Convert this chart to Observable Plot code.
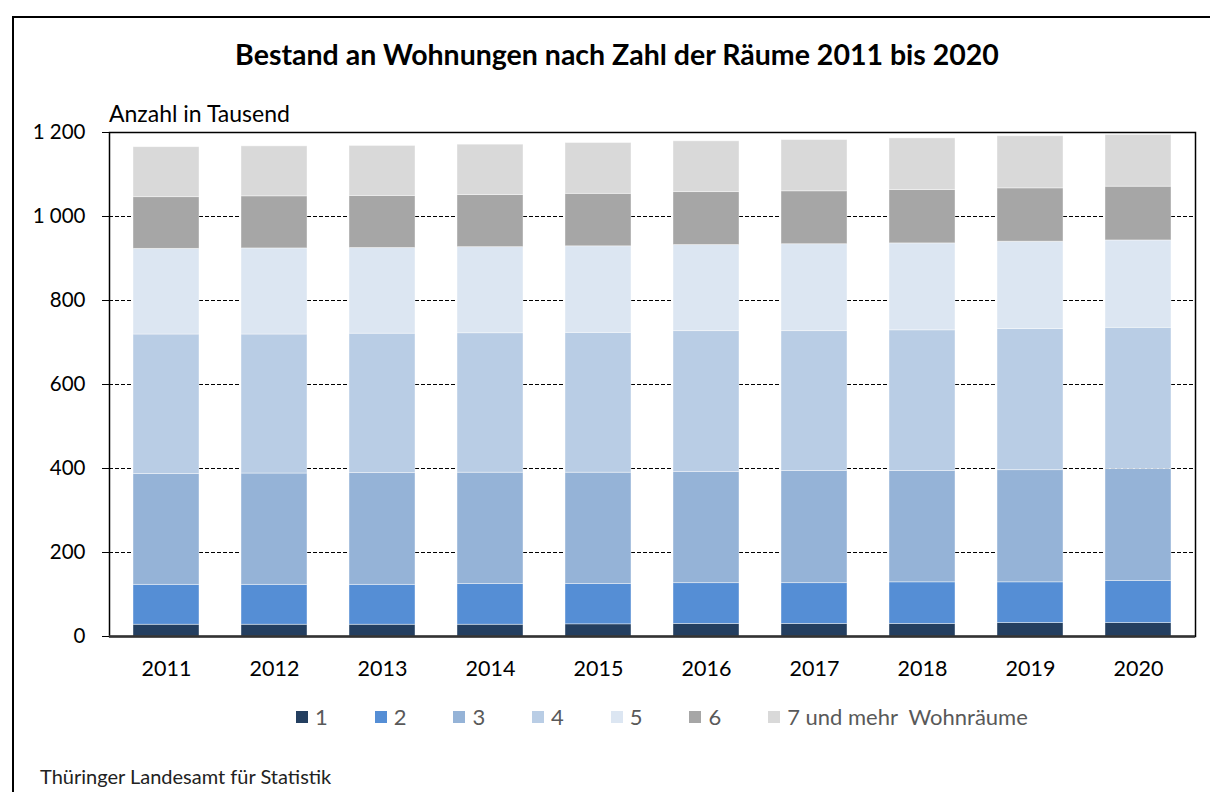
<!DOCTYPE html>
<html>
<head>
<meta charset="utf-8">
<script src="https://cdn.jsdelivr.net/npm/d3@7"></script>
<script src="https://cdn.jsdelivr.net/npm/@observablehq/plot@0.6"></script>
<style>
  html, body { margin: 0; padding: 0; background: #fff; }
  #wrap { position: relative; width: 1210px; height: 792px; overflow: hidden; font-family: Lato, "Open Sans", sans-serif; }
  #frame { position: absolute; left: 12px; top: 16px; width: 1220px; height: 800px; border-left: 2px solid #000; border-top: 2px solid #000; }
  #title { position: absolute; left: 12px; width: 1210px; top: 37px; text-align: center; font-weight: 700; font-size: 28.5px; color: #000; }
  #ylabel { position: absolute; left: 109px; top: 99px; font-size: 23px; color: #000; }
  #chart { position: absolute; left: 0; top: 100px; }
  #legend { position: absolute; left: 296px; top: 703px; display: flex; align-items: center; font-size: 22px; color: #595959; }
  .item { display: flex; align-items: center; width: 78.7px; }
  .item.last { width: auto; }
  .sw { width: 12px; height: 12px; margin-right: 7px; }
  #caption { position: absolute; left: 40px; top: 764px; font-size: 20px; color: #222; }
</style>
</head>
<body>
<div id="wrap">
  <div id="frame"></div>
  <div id="title">Bestand an Wohnungen nach Zahl der Räume 2011 bis 2020</div>
  <div id="ylabel">Anzahl in Tausend</div>
  <div id="chart"></div>
  <div id="legend"></div>
  <div id="caption">Thüringer Landesamt für Statistik</div>
</div>
<script>
const years = ["2011","2012","2013","2014","2015","2016","2017","2018","2019","2020"];
const categories = ["1","2","3","4","5","6","7 und mehr  Wohnräume"];
const colors = ["#243f60","#558ed5","#95b3d7","#b9cde5","#dce6f2","#a6a6a6","#d9d9d9"];
const room1 = [28,28,28,28,29,30,30,30,32,32];
const room2 = [95,95,95,97,96,97,97,99,97,100];
const room3 = [264,265,266,265,265,265,267,265,267,267];
const room4 = [332,331,332,332,333,335,333,335,336,336];
const room5 = [204,205,204,205,206,205,207,207,208,208];
const room6 = [123,124,124,124,125,126,126,127,127,128];
const room7 = [119,119,119,120,121,121,122,123,124,123];
const yTicks = [0,200,400,600,800,1000,1200];

const series = [room1, room2, room3, room4, room5, room6, room7];
const data = [];
categories.forEach((c, i) => years.forEach((y, j) => data.push({year: y, cat: c, value: series[i][j]})));

const fmt = v => d3.format(",")(v).replace(/,/g, "\u00a0");

const plot = Plot.plot({
  width: 1210,
  height: 600,
  marginLeft: 109,
  marginRight: 15,
  marginTop: 32,
  marginBottom: 64,
  style: {fontFamily: "Lato, 'Open Sans', sans-serif", fontSize: "20px", color: "#000", background: "transparent"},
  x: {domain: years, paddingInner: 0.39, paddingOuter: 0.18, label: null},
  y: {domain: [0, 1200], label: null},
  color: {domain: categories, range: colors},
  marks: [
    Plot.gridY(yTicks, {stroke: "#000", strokeOpacity: 1, strokeWidth: 1, strokeDasharray: "4,2"}),
    Plot.barY(data, {x: "year", y: "value", fill: "cat", stroke: "#fff", strokeOpacity: 0.5, strokeWidth: 0.8}),
    Plot.axisY(yTicks, {tickFormat: fmt, tickSize: 7, tickPadding: 17, stroke: "#000", label: null, fontSize: 20.5}),
    Plot.axisX({tickSize: 0, tickPadding: 24, label: null, fontSize: 21.5}),
    Plot.frame({stroke: "#000", strokeWidth: 1.5}),
    Plot.ruleX([0], {frameAnchor: "left", stroke: "#111", strokeWidth: 2.5}),
    Plot.ruleY([0], {stroke: "#333", strokeWidth: 2.5})
  ]
});
document.getElementById("chart").appendChild(plot);

const legend = document.getElementById("legend");
categories.forEach((c, i) => {
  const it = document.createElement("div");
  it.className = "item" + (i === categories.length - 1 ? " last" : "");
  const sw = document.createElement("div");
  sw.className = "sw";
  sw.style.background = colors[i];
  const t = document.createElement("span");
  t.textContent = c;
  t.style.whiteSpace = "pre";
  it.appendChild(sw); it.appendChild(t);
  legend.appendChild(it);
});
</script>
</body>
</html>
